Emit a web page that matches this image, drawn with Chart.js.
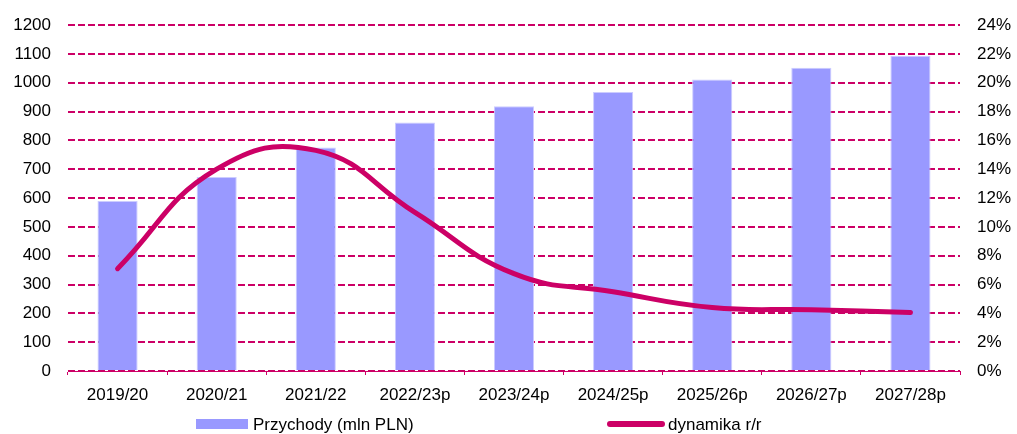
<!DOCTYPE html>
<html>
<head>
<meta charset="utf-8">
<script src="https://cdn.jsdelivr.net/npm/chart.js@4.4.1/dist/chart.umd.min.js"></script>
<style>
  html, body { margin: 0; padding: 0; background: #fff; }
  #wrap { width: 1017px; height: 434px; position: relative; }
</style>
</head>
<body>
<div id="wrap"><canvas id="chart"></canvas></div>
<script>
const categories = ['2019/20', '2020/21', '2021/22', '2022/23p', '2023/24p', '2024/25p', '2025/26p', '2026/27p', '2027/28p'];
const revenue = [590, 673, 775, 862, 918, 968, 1011, 1052, 1093];
const growth = [7.1, 14.0, 15.3, 11.0, 6.75, 5.5, 4.4, 4.25, 4.05];

const magenta = '#cc0066';
const barColor = '#9999ff';

Chart.defaults.font.family = '"Liberation Sans", Arial, sans-serif';
Chart.defaults.font.size = 17;
Chart.defaults.color = '#000';

// legend spread wide at the bottom like the original, so drawn by hand
const bottomLegend = {
    id: 'bottomLegend',
    afterDraw(chart) {
        const c = chart.ctx;
        const y = 424;
        c.save();
        c.font = '17px "Liberation Sans", Arial, sans-serif';
        c.textBaseline = 'middle';
        c.textAlign = 'left';
        // bars
        c.fillStyle = barColor;
        c.fillRect(196, y - 5, 52, 10);
        c.fillStyle = '#000';
        c.fillText(chart.data.datasets[1].label, 253, y + 1);
        // line
        c.strokeStyle = magenta;
        c.lineWidth = 6;
        c.lineCap = 'round';
        c.beginPath();
        c.moveTo(610, y);
        c.lineTo(662, y);
        c.stroke();
        c.fillText(chart.data.datasets[0].label, 668, y + 1);
        c.restore();
    }
};

function fixSide(width) {
    return scale => {
        scale.width = width;
        scale.paddingTop = 0;
        scale.paddingBottom = 0;
    };
}

const ctx = document.getElementById('chart').getContext('2d');
new Chart(ctx, {
    type: 'bar',
    data: {
        labels: categories,
        datasets: [
            {
                type: 'line',
                label: 'dynamika r/r',
                data: growth,
                yAxisID: 'y1',
                borderColor: magenta,
                backgroundColor: magenta,
                borderWidth: 5,
                borderCapStyle: 'round',
                pointRadius: 0,
                tension: 0.45,
                order: 0
            },
            {
                label: 'Przychody (mln PLN)',
                data: revenue,
                yAxisID: 'y',
                backgroundColor: barColor,
                borderColor: '#ccccff',
                borderWidth: 1,
                categoryPercentage: 1,
                barPercentage: 0.405,
                order: 1
            }
        ]
    },
    plugins: [bottomLegend],
    options: {
        responsive: true,
        maintainAspectRatio: false,
        animation: false,
        layout: { padding: { left: 0, right: 0, top: 25, bottom: 27 } },
        plugins: {
            tooltip: { enabled: false },
            legend: { display: false }
        },
        scales: {
            x: {
                grid: {
                    drawOnChartArea: false,
                    color: magenta,
                    tickLength: 4
                },
                border: { color: magenta, width: 1 },
                ticks: { padding: 10, font: { size: 17 } },
                afterFit(scale) { scale.height = 36; }
            },
            y: {
                position: 'left',
                min: 0,
                max: 1200,
                ticks: { stepSize: 100, padding: 17, autoSkip: false, callback: v => String(v) },
                grid: {
                    color: magenta,
                    lineWidth: 2,
                    drawTicks: false
                },
                border: { display: false, dash: [7, 3] },
                afterFit: fixSide(68)
            },
            y1: {
                position: 'right',
                min: 0,
                max: 24,
                ticks: {
                    stepSize: 2,
                    padding: 17,
                    autoSkip: false,
                    callback: v => v + '%'
                },
                grid: { drawOnChartArea: false, drawTicks: false },
                border: { display: false },
                afterFit: fixSide(57)
            }
        }
    }
});
</script>
</body>
</html>
